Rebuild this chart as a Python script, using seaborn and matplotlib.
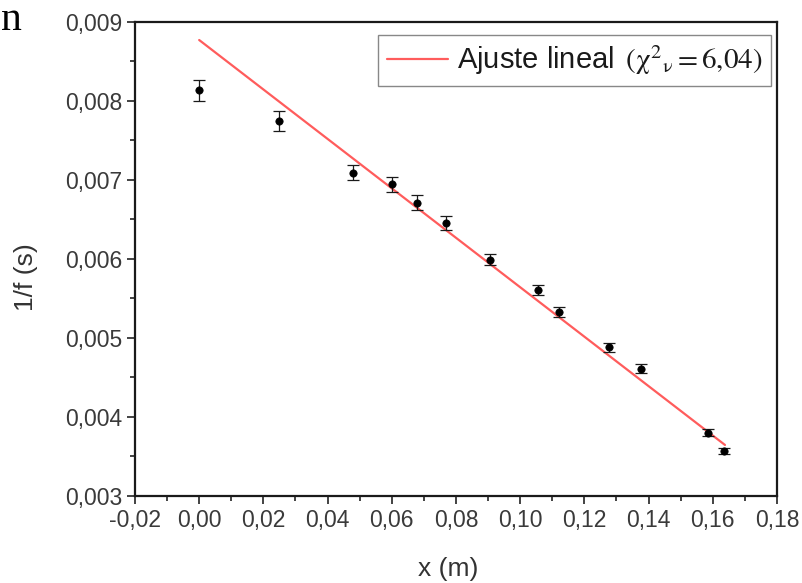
import matplotlib
matplotlib.use("Agg")
import matplotlib.pyplot as plt
from matplotlib.ticker import FuncFormatter, MultipleLocator
import numpy as np
import pandas as pd
import seaborn as sns

# Measured positions and inverse frequencies
x_m = [0.000, 0.025, 0.048, 0.060, 0.068, 0.077, 0.0905, 0.1055, 0.112, 0.1277, 0.1375, 0.1584, 0.1636]
inv_f = [0.00813, 0.007745, 0.00709, 0.00694, 0.00671, 0.00645, 0.00599, 0.00560,
         0.00533, 0.00488, 0.00461, 0.00380, 0.00357]
inv_f_err = [0.00013, 0.000125, 0.0001, 0.0001, 0.00009, 0.00009, 0.000074, 0.000063,
             0.000063, 0.000057, 0.000053, 0.000046, 0.00004]

# Linear fit parameters and the x span it is drawn over
fit_intercept = 0.008766
fit_slope = -0.03126
fit_x = [0.0, 0.1638]

x_ticks = [-0.02, 0.00, 0.02, 0.04, 0.06, 0.08, 0.10, 0.12, 0.14, 0.16, 0.18]
y_ticks = [0.003, 0.004, 0.005, 0.006, 0.007, 0.008, 0.009]

sns.set_theme(style="white")
plt.rcParams["font.family"] = ["Liberation Sans", "DejaVu Sans"]
plt.rcParams["mathtext.fontset"] = "stix"

df = pd.DataFrame({"x": x_m, "y": inv_f, "err": inv_f_err})
fit_df = pd.DataFrame({"x": fit_x})
fit_df["y"] = fit_intercept + fit_slope * fit_df["x"]

fig = plt.figure(figsize=(8.02, 5.83), dpi=100)
ax = fig.add_axes([0.1683, 0.1492, 0.8005, 0.8139])

ax.errorbar(df["x"], df["y"], yerr=df["err"], fmt="none", ecolor="#1a1a1a",
            elinewidth=0.9, capsize=4, capthick=0.9, zorder=2)
sns.scatterplot(data=df, x="x", y="y", ax=ax, color="black", s=28,
                edgecolor="black", linewidth=0.5, zorder=3, legend=False)
sns.lineplot(data=fit_df, x="x", y="y", ax=ax, color="#ff5c5c", linewidth=1.6,
             label=r"Ajuste lineal $\,(\mathrm{\chi}^{2}{}_{\mathrm{\nu}} = 6{,}04)\hspace{0.3}{}$",
             zorder=1)

ax.set_xlim(-0.02, 0.18)
ax.set_ylim(0.003, 0.009)
ax.set_xticks(x_ticks)
ax.set_yticks(y_ticks)
ax.xaxis.set_minor_locator(MultipleLocator(0.01))
ax.yaxis.set_minor_locator(MultipleLocator(0.0005))
ax.xaxis.set_major_formatter(FuncFormatter(lambda v, p: f"{v:.2f}".replace(".", ",")))
ax.yaxis.set_major_formatter(FuncFormatter(lambda v, p: f"{v:.3f}".replace(".", ",")))

ax.tick_params(axis="both", which="major", direction="out", length=6, width=1.2,
               color="#222222", labelsize=16.5, labelcolor="#3a3a3a", pad=3,
               bottom=True, left=True, top=False, right=False)
ax.tick_params(axis="both", which="minor", direction="out", length=3.5, width=1.2,
               color="#222222", bottom=True, left=True, top=False, right=False)

for side in ["left", "bottom", "top", "right"]:
    ax.spines[side].set_visible(True)
    ax.spines[side].set_color("#1a1a1a")
    ax.spines[side].set_linewidth(1.6)

ax.set_xlabel("x (m)", fontsize=19, color="#333333")
ax.set_ylabel("1/f (s)", fontsize=19, color="#333333")
ax.xaxis.set_label_coords(0.4875, -0.128)
ax.yaxis.set_label_coords(-0.151, 0.4615)

leg = ax.legend(loc="upper right", bbox_to_anchor=(0.9907, 0.9715), borderaxespad=0,
                fontsize=21, frameon=True, fancybox=False, edgecolor="#888888",
                framealpha=1, borderpad=0.3, handlelength=2.1, handletextpad=0.31)
leg.get_frame().set_linewidth(1.0)
for t in leg.get_texts():
    t.set_color("#1a1a1a")

fig.text(0.0015, 1 - 30 / 583, "n", fontsize=30, family="Liberation Serif",
         ha="left", va="baseline", color="black")

fig.savefig("out.png", dpi=100)
